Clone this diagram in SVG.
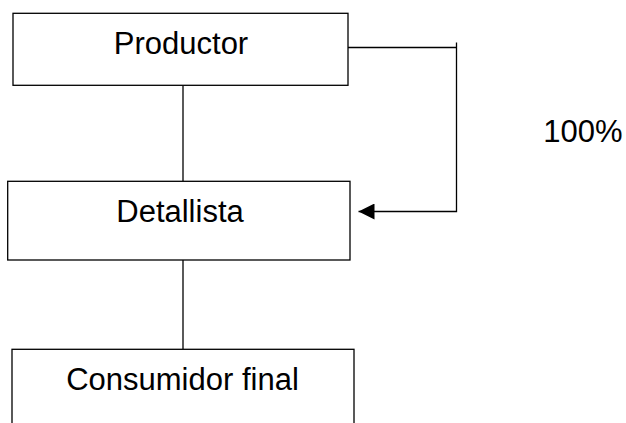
<svg xmlns="http://www.w3.org/2000/svg" width="626" height="423" viewBox="0 0 626 423">
<style>
.box{fill:#fff;stroke:#000;stroke-width:1.3}
.ln{fill:none;stroke:#000;stroke-width:1.3}
text{font-family:"Liberation Sans",Arial,sans-serif;font-size:31px;fill:#000}
</style>
<defs>
<marker id="arr" viewBox="0 0 16 16" refX="16" refY="8" markerWidth="16" markerHeight="16" markerUnits="userSpaceOnUse" orient="auto">
<path d="M0,0 L16,8 L0,16 Z" fill="#000"/>
</marker>
</defs>
<g id="connectors">
<line class="ln" x1="183" y1="85.5" x2="183" y2="181"/>
<line class="ln" x1="183" y1="260" x2="183" y2="349"/>
<path class="ln" d="M348,47.5 H456.5"/>
<path class="ln" d="M456.5,42.5 V211.5 H358.5" marker-end="url(#arr)"/>
</g>
<g id="productor">
<rect class="box" x="13" y="13.3" width="335" height="72"/>
<text x="181" y="54" text-anchor="middle">Productor</text>
</g>
<g id="detallista">
<rect class="box" x="7.7" y="181.3" width="342.3" height="78.7"/>
<text x="180" y="221.7" text-anchor="middle">Detallista</text>
</g>
<g id="consumidor">
<rect class="box" x="12" y="349.3" width="342" height="90"/>
<text x="182.5" y="390" text-anchor="middle">Consumidor final</text>
</g>
<g id="label">
<text x="543.3" y="141.7">100%</text>
</g>
</svg>
